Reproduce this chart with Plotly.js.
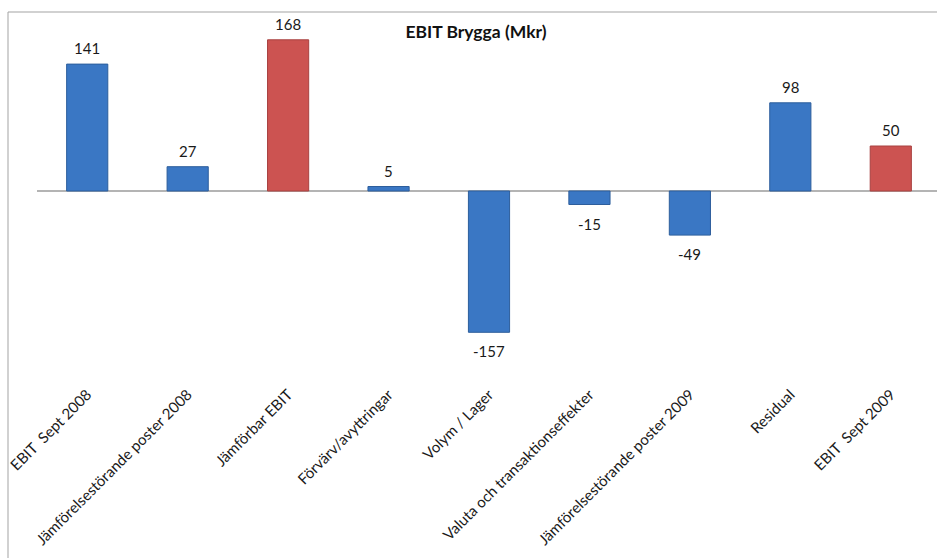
<!DOCTYPE html>
<html>
<head>
<meta charset="utf-8">
<script src="https://cdn.plot.ly/plotly-3.0.1.min.js"></script>
<style>
  html, body { margin: 0; padding: 0; overflow: hidden; background: #ffffff; }
  #chart { width: 950px; height: 558px; }
</style>
</head>
<body>
<div id="chart"></div>
<script>
// ---- data ----
const categories = [
  "EBIT\u00a0 Sept 2008",
  "Jämförelsestörande poster 2008",
  "Jämförbar EBIT",
  "Förvärv/avyttringar",
  "Volym / Lager",
  "Valuta och transaktionseffekter",
  "Jämförelsestörande poster 2009",
  "Residual",
  "EBIT\u00a0 Sept 2009"
];
const values = [141, 27, 168, 5, -157, -15, -49, 98, 50];
const barKind = ["step", "step", "total", "step", "step", "step", "step", "step", "total"];
const valueLabels = ["141", "27", "168", "5", "-157", "-15", "-49", "98", "50"];

// ---- styling ----
const kindColor = { step: "#3a77c4", total: "#cc5351" };
const kindLine = { step: "#2d5e9c", total: "#a84240" };
const FONT = "Lato, 'Open Sans', sans-serif";

const W = 950, Hh = 558;
const margin = { l: 37, r: 9, t: 20, b: 176 };
const plotW = W - margin.l - margin.r;
const plotH = Hh - margin.t - margin.b;

const trace = {
  type: "bar",
  x: categories,
  y: values,
  marker: {
    color: barKind.map(k => kindColor[k]),
    line: { color: barKind.map(k => kindLine[k]), width: 1 }
  },
  hoverinfo: "x+y"
};

const valueAnnotations = categories.map((c, i) => ({
  x: c,
  y: values[i],
  xref: "x", yref: "y",
  text: valueLabels[i],
  showarrow: false,
  yanchor: values[i] >= 0 ? "bottom" : "top",
  yshift: values[i] >= 0 ? 5 : -8,
  font: { family: FONT, size: 15, color: "#1a1a1a" }
}));

const layout = {
  width: W,
  height: Hh,
  margin: margin,
  paper_bgcolor: "#ffffff",
  plot_bgcolor: "#ffffff",
  showlegend: false,
  bargap: 0.59,
  title: {
    text: "<b>EBIT Brygga (Mkr)</b>",
    font: { family: FONT, size: 17.5, color: "#111111" },
    x: 476 / W, xref: "container", xanchor: "center",
    y: 1 - 32 / Hh, yref: "container", yanchor: "middle"
  },
  xaxis: {
    type: "category",
    showline: false,
    showgrid: false,
    ticks: "",
    tickangle: -45,
    tickfont: { family: FONT, size: 15, color: "#1a1a1a" },
    automargin: false
  },
  yaxis: {
    range: [-(382 - 191) / 0.9, (191 - 20) / 0.9],
    showgrid: false,
    showticklabels: false,
    ticks: "",
    showline: false,
    zeroline: true,
    zerolinecolor: "#b4b4b4",
    zerolinewidth: 2,
    automargin: false
  },
  annotations: valueAnnotations,
  shapes: [{
    type: "rect",
    xref: "paper", yref: "paper",
    x0: (8 - margin.l) / plotW,
    x1: 2,
    y0: -2,
    y1: (plotH + margin.t - 12) / plotH,
    line: { color: "#a3a3a3", width: 1 },
    fillcolor: "rgba(0,0,0,0)",
    layer: "below"
  }]
};

Plotly.newPlot("chart", [trace], layout, { displayModeBar: false, staticPlot: true });
</script>
</body>
</html>
